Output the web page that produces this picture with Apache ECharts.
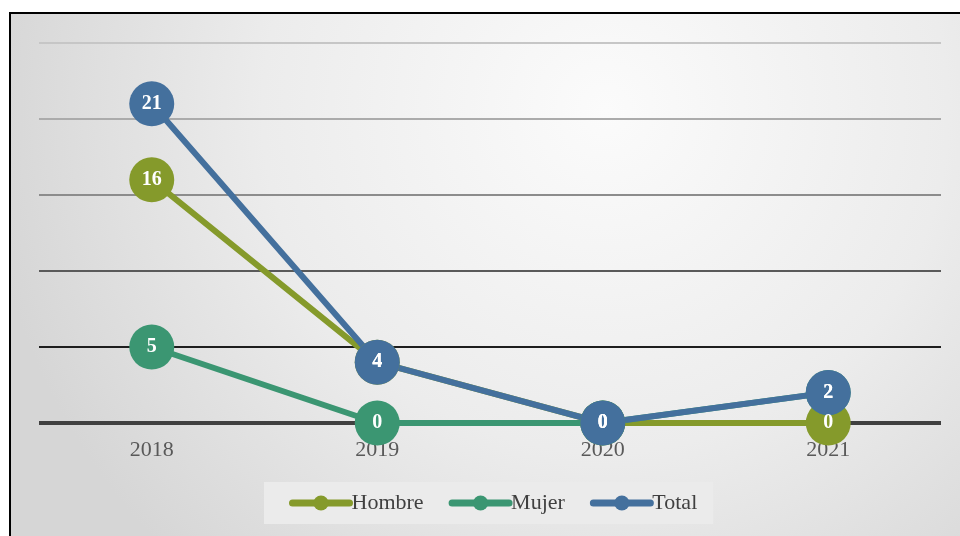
<!DOCTYPE html>
<html>
<head>
<meta charset="utf-8">
<script src="https://cdn.jsdelivr.net/npm/echarts@6/dist/echarts.min.js"></script>
<style>
html,body{margin:0;padding:0;background:#fff;}
#c{width:960px;height:536px;}
</style>
</head>
<body>
<div id="c"></div>
<script>
const categories = ['2018', '2019', '2020', '2021'];
const hombre = [16, 4, 0, 0];
const mujer = [5, 0, 0, 2];
const total = [21, 4, 0, 2];
const yTicks = [0, 5, 10, 15, 20, 25];

const FONT = "'Liberation Serif', 'DejaVu Serif', serif";
const colors = { Hombre: '#859a2b', Mujer: '#3b9672', Total: '#44709d' };

function mk(name, data) {
  return {
    name: name,
    type: 'line',
    data: data,
    symbol: 'circle',
    symbolSize: 45,
    lineStyle: { width: 6, color: colors[name] },
    itemStyle: { color: colors[name] },
    label: {
      show: true,
      position: 'inside',
      color: '#ffffff',
      fontFamily: FONT,
      fontWeight: 'bold',
      fontSize: 20
    },
    emphasis: { disabled: true },
    animation: false
  };
}

const chart = echarts.init(document.getElementById('c'));
chart.setOption({
  animation: false,
  backgroundColor: '#ffffff',
  graphic: [{
    type: 'rect',
    z: -100,
    silent: true,
    shape: { x: 10, y: 13, width: 960, height: 540 },
    style: {
      fill: {
        type: 'radial', x: 0.62, y: 0.18, r: 1.15,
        colorStops: [
          { offset: 0, color: '#fbfbfb' },
          { offset: 0.55, color: '#ececec' },
          { offset: 1, color: '#d6d6d6' }
        ]
      },
      stroke: '#000000',
      lineWidth: 2
    }
  }],
  grid: { left: 39, right: 19, top: 43, bottom: 113, containLabel: false },
  xAxis: {
    type: 'category',
    data: categories,
    boundaryGap: true,
    axisLine: { show: true, lineStyle: { color: '#404040', width: 4, cap: 'butt' } },
    axisTick: { show: false },
    axisLabel: { color: '#595959', fontFamily: FONT, fontSize: 22, margin: 16 }
  },
  yAxis: {
    type: 'value',
    min: yTicks[0],
    max: yTicks[yTicks.length - 1],
    interval: 5,
    axisLine: { show: false },
    axisTick: { show: false },
    axisLabel: { show: false },
    splitLine: {
      show: true,
      lineStyle: {
        width: 2,
        color: ['#404040', '#1e1e1e', '#5a5a5a', '#8c8c8c', '#ababab', '#c6c6c6']
      }
    }
  },
  legend: {
    data: ['Hombre', 'Mujer', 'Total'],
    left: 264,
    top: 482,
    padding: [10, 16, 10, 25],
    itemGap: 25,
    itemWidth: 57,
    itemHeight: 19,
    backgroundColor: '#ebebeb',
    lineStyle: { width: 7, cap: 'round' },
    textStyle: { color: '#404040', fontFamily: FONT, fontSize: 22, padding: [0, 0, 0, -3] }
  },
  series: [
    mk('Hombre', hombre),
    mk('Mujer', mujer),
    mk('Total', total)
  ]
});
</script>
</body>
</html>
